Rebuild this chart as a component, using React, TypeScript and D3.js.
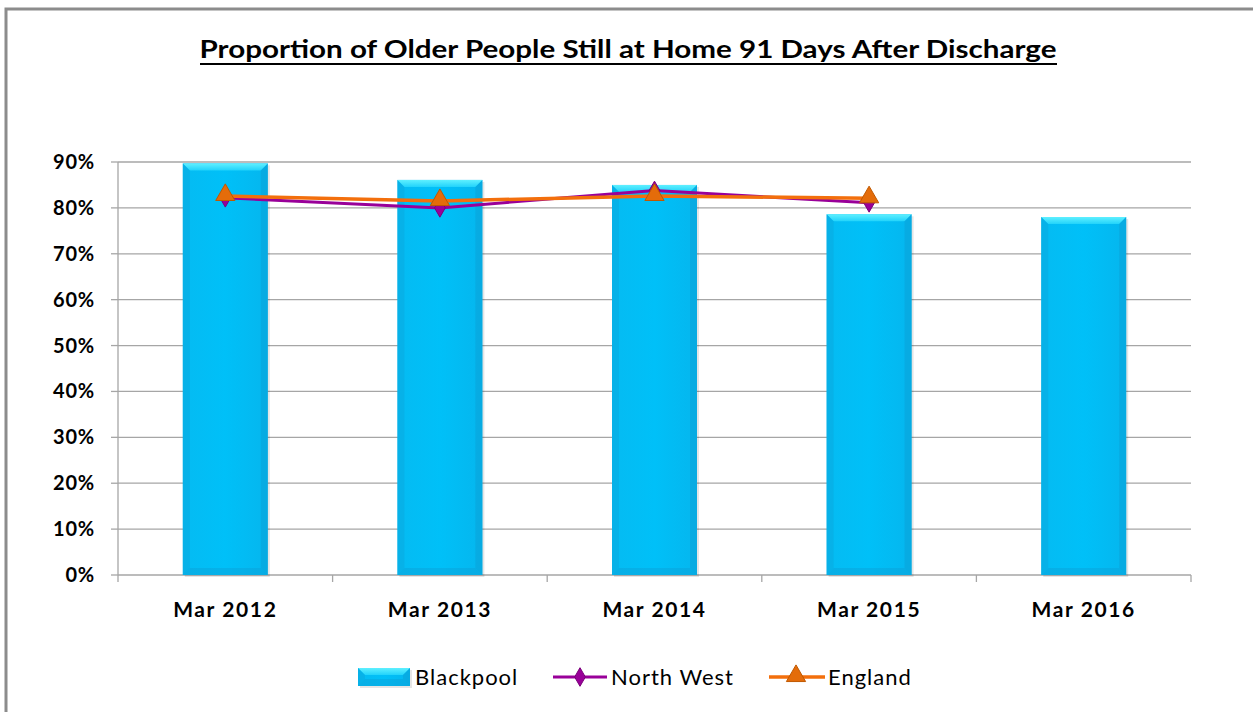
import React from "react";
import * as d3 from "d3";

const categories = ["Mar 2012", "Mar 2013", "Mar 2014", "Mar 2015", "Mar 2016"];
const blackpool = [89.7, 86.1, 85.0, 78.6, 78.0];
const northWest = [82.2, 80.0, 83.8, 81.1];
const england = [82.6, 81.5, 82.6, 82.1];
const yTicks = [0, 10, 20, 30, 40, 50, 60, 70, 80, 90];
const title = "Proportion of Older People Still at Home 91 Days After Discharge";

const W = 1253, H = 712;
const plot = { left: 118, right: 1191, top: 162, bottom: 575 };
const FONT = "Lato, 'Open Sans', sans-serif";

export default function App() {
  const xb = d3.scaleBand().domain(categories).range([plot.left, plot.right]);
  const y = d3.scaleLinear().domain([0, 90]).range([plot.bottom, plot.top]);
  const cx = (c: string) => (xb(c) as number) + xb.bandwidth() / 2;
  const bw = 85;

  const line = d3.line<number>().x((_, i) => cx(categories[i])).y((v) => y(v));
  const tri = d3.symbol().type(d3.symbolTriangle).size(160)();
  const dia = d3.symbol().type(d3.symbolDiamond).size(100)();

  const bar = (xl: number, yt: number, w: number, h: number, key: string) => {
    const b = 7;
    return (
      <g key={key}>
        <rect x={xl + 2} y={yt + 2} width={w} height={h} fill="#000" opacity={0.1} />
        <rect x={xl} y={yt} width={w} height={h} fill="url(#barGrad)" />
        <polygon points={`${xl},${yt} ${xl + w},${yt} ${xl + w - b},${yt + b} ${xl + b},${yt + b}`} fill="url(#topGrad)" />
        <polygon points={`${xl},${yt} ${xl + b},${yt + b} ${xl + b},${yt + h - b} ${xl},${yt + h}`} fill="#0aa8de" opacity={0.5} />
        <polygon points={`${xl + w},${yt} ${xl + w - b},${yt + b} ${xl + w - b},${yt + h - b} ${xl + w},${yt + h}`} fill="#0a9fd6" opacity={0.5} />
        <polygon points={`${xl},${yt + h} ${xl + b},${yt + h - b} ${xl + w - b},${yt + h - b} ${xl + w},${yt + h}`} fill="#0a9fd6" opacity={0.45} />
      </g>
    );
  };

  return (
    <svg width={W} height={H} style={{ position: "absolute", left: 0, top: 0, background: "#fff" }}>
      <defs>
        <linearGradient id="barGrad" x1="0" x2="1" y1="0" y2="0">
          <stop offset="0" stopColor="#05bbf2" />
          <stop offset="0.5" stopColor="#00c0f8" />
          <stop offset="1" stopColor="#05b6ee" />
        </linearGradient>
        <linearGradient id="topGrad" x1="0" x2="0" y1="0" y2="1">
          <stop offset="0" stopColor="#5ff0ff" />
          <stop offset="1" stopColor="#22d3fb" />
        </linearGradient>
      </defs>
      <rect x={0} y={0} width={W} height={H} fill="#fff" />
      <path d={`M6,${H} L6,9 L${W},9`} fill="none" stroke="#8c8c8c" strokeWidth={3} />

      <text x={628} y={58} textAnchor="middle" fontFamily={FONT} fontWeight="bold" fontSize={24} fill="#000" textLength={857} lengthAdjust="spacingAndGlyphs">{title}</text>
      <line x1={200} x2={1057} y1={64} y2={64} stroke="#000" strokeWidth={2} />

      {yTicks.map((t) => (
        <g key={t}>
          {t > 0 && <line x1={plot.left} x2={plot.right} y1={y(t)} y2={y(t)} stroke="#a6a6a6" strokeWidth={1.3} />}
          <line x1={plot.left - 7} x2={plot.left} y1={y(t)} y2={y(t)} stroke="#a6a6a6" strokeWidth={1.3} />
          <text x={95} y={y(t) + 7} textAnchor="end" fontFamily={FONT} fontWeight="bold" fontSize={20} letterSpacing={0.8} fill="#000">{t}%</text>
        </g>
      ))}
      <line x1={plot.left} x2={plot.left} y1={plot.top} y2={plot.bottom} stroke="#a6a6a6" strokeWidth={1.3} />
      <line x1={plot.left} x2={plot.right} y1={plot.bottom} y2={plot.bottom} stroke="#a6a6a6" strokeWidth={1.3} />
      {[...categories.map((c) => xb(c) as number), plot.right].map((v, i) => (
        <line key={i} x1={v} x2={v} y1={plot.bottom} y2={plot.bottom + 7} stroke="#a6a6a6" strokeWidth={1.3} />
      ))}
      {categories.map((c) => (
        <text key={c} x={cx(c)} y={617} textAnchor="middle" fontFamily={FONT} fontWeight="bold" fontSize={21} letterSpacing={1.6} fill="#000">{c}</text>
      ))}

      {categories.map((c, i) => bar(cx(c) - bw / 2, y(blackpool[i]), bw, plot.bottom - y(blackpool[i]), c))}

      <path d={line(northWest) as string} fill="none" stroke="#990099" strokeWidth={3} />
      {northWest.map((v, i) => (
        <path key={i} d={dia as string} transform={`translate(${cx(categories[i])},${y(v)})`} fill="#990099" stroke="#7a007a" strokeWidth={1} />
      ))}
      <path d={line(england) as string} fill="none" stroke="#f36f0c" strokeWidth={3.5} />
      {england.map((v, i) => (
        <path key={i} d={tri as string} transform={`translate(${cx(categories[i])},${y(v) - 1})`} fill="#e46c0a" stroke="#c05800" strokeWidth={1} />
      ))}

      {bar(358, 668, 52, 18, "leg")}
      <text x={415} y={685} fontFamily={FONT} fontSize={22} letterSpacing={1} fill="#000">Blackpool</text>
      <line x1={553} x2={607} y1={677} y2={677} stroke="#990099" strokeWidth={3} />
      <path d={dia as string} transform="translate(580,677)" fill="#990099" stroke="#7a007a" />
      <text x={611} y={685} fontFamily={FONT} fontSize={22} letterSpacing={1} fill="#000">North West</text>
      <line x1={769} x2={825} y1={677} y2={677} stroke="#f36f0c" strokeWidth={3.5} />
      <path d={tri as string} transform="translate(796,676)" fill="#e46c0a" stroke="#c05800" />
      <text x={828} y={685} fontFamily={FONT} fontSize={22} letterSpacing={1} fill="#000">England</text>
    </svg>
  );
}
